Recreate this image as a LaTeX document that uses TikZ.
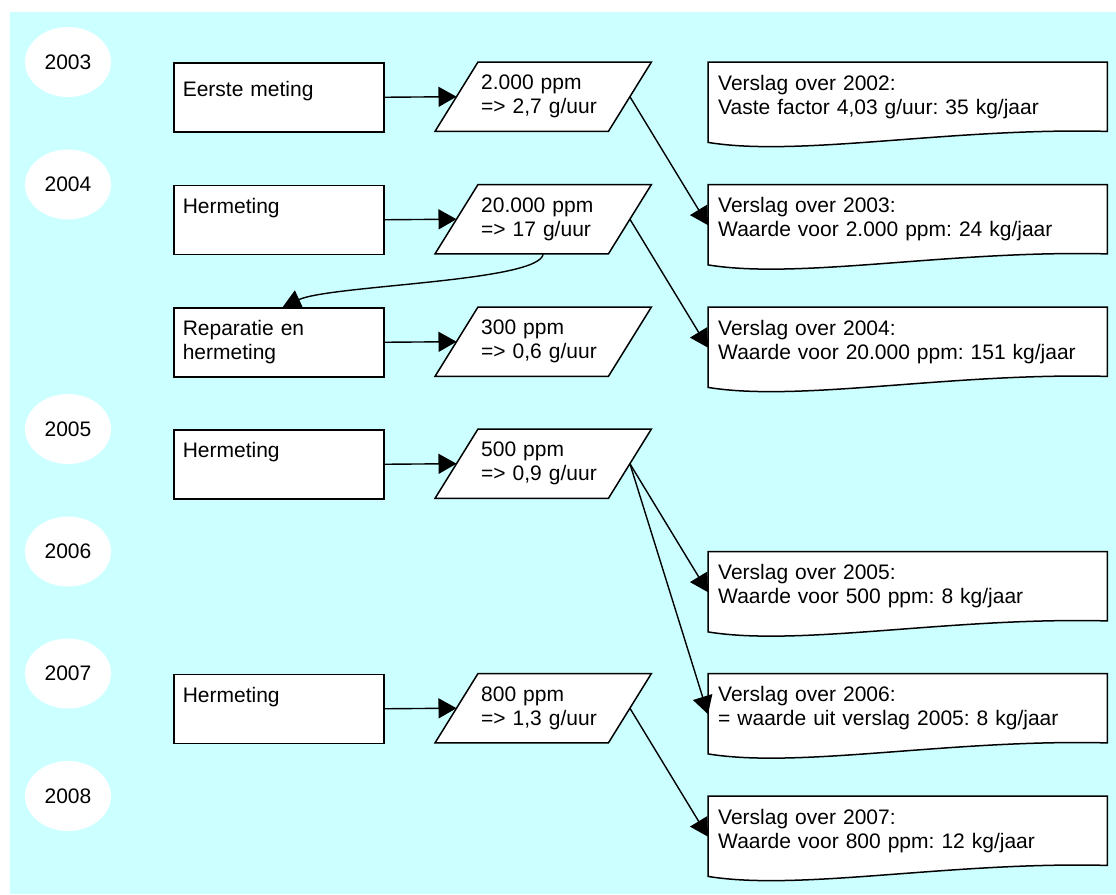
\documentclass[tikz,border=0pt]{standalone}
\usepackage{fontspec}
\setmainfont{Liberation Sans}
\usetikzlibrary{arrows.meta,shapes.geometric}
\definecolor{bgcyan}{RGB}{204,255,255}
\pgfdeclarelayer{bglayer}
\pgfdeclarelayer{shapelayer}
\pgfsetlayers{bglayer,shapelayer,main}
\frenchspacing
\newcommand\drawdata[1]{\draw[shapeline] ([xshift=43pt]#1.north west) -- (#1.north east) -- ([xshift=-43pt]#1.south east) -- (#1.south west) -- cycle;}
\newcommand\drawdoc[1]{\draw[shapeline] ([yshift=-11pt]#1.south west) -- (#1.north west) -- (#1.north east) -- (#1.south east) .. controls ([xshift=-157pt,yshift=4pt]#1.south east) and ([xshift=92pt,yshift=-26pt]#1.south west) .. ([yshift=-11pt]#1.south west) -- cycle;}
\newcommand\oneline[2][6pt]{\raisebox{#1}[\height][\depth]{#2}}
\begin{document}
\begin{tikzpicture}[x=1pt,y=-1pt,
  every node/.style={font=\fontsize{21}{24}\selectfont},
  shapeline/.style={draw=black, line width=1.5pt, fill=white, line join=miter},
  yearnode/.style={ellipse, fill=white, minimum width=86pt, minimum height=70pt, inner sep=0pt},
  procbox/.style={draw=black, line width=1.5pt, fill=white, minimum width=210pt, minimum height=69pt, text width=192pt, inner xsep=9pt, inner ysep=0pt, align=left, anchor=north west},
  datanode/.style={minimum width=216pt, minimum height=69pt, text width=124pt, inner xsep=46pt, inner ysep=0pt, align=left, anchor=north west},
  docnode/.style={minimum width=399pt, minimum height=69pt, text width=379pt, inner xsep=10pt, inner ysep=0pt, align=left, anchor=north west},
  conn/.style={draw=black, line width=1.4pt, -{Triangle[length=18pt,width=20pt]}}]
\useasboundingbox (0,0) rectangle (1116,894);
\begin{pgfonlayer}{bglayer}
\fill[bgcyan] (10,12) rectangle (1116,894);
\end{pgfonlayer}

% years
\node[yearnode] (y2003) at (68,62) {2003};
\node[yearnode] (y2004) at (68,184.5) {2004};
\node[yearnode] (y2005) at (68,429) {2005};
\node[yearnode] (y2006) at (68,551.5) {2006};
\node[yearnode] (y2007) at (68,673.5) {2007};
\node[yearnode] (y2008) at (68,796) {2008};

% process boxes
\node[procbox] (b1) at (173,62) {\oneline{Eerste meting}};
\node[procbox] (b2) at (173,184.5) {\oneline[12pt]{Hermeting}};
\node[procbox] (rep) at (173,307) {Reparatie en\\hermeting};
\node[procbox] (b4) at (173,429) {\oneline[12pt]{Hermeting}};
\node[procbox] (b5) at (173,673.5) {\oneline[12pt]{Hermeting}};

% data
\node[datanode] (d1) at (435,62) {2.000 ppm\\=> 2,7 g/uur};
\node[datanode] (d2) at (435,184.5) {20.000 ppm\\=> 17 g/uur};
\node[datanode] (d3) at (435,307) {300 ppm\\=> 0,6 g/uur};
\node[datanode] (d4) at (435,429) {500 ppm\\=> 0,9 g/uur};
\node[datanode] (d5) at (435,673.5) {800 ppm\\=> 1,3 g/uur};

% reports
\node[docnode] (r2002) at (708,62) {Verslag over 2002:\\Vaste factor 4,03 g/uur: 35 kg/jaar};
\node[docnode] (r2003) at (708,184.5) {Verslag over 2003:\\Waarde voor 2.000 ppm: 24 kg/jaar};
\node[docnode] (r2004) at (708,307) {Verslag over 2004:\\Waarde voor 20.000 ppm: 151 kg/jaar};
\node[docnode] (r2005) at (708,551.5) {Verslag over 2005:\\Waarde voor 500 ppm: 8 kg/jaar};
\node[docnode] (r2006) at (708,673.5) {Verslag over 2006:\\= waarde uit verslag 2005: 8 kg/jaar};
\node[docnode] (r2007) at (708,796) {Verslag over 2007:\\Waarde voor 800 ppm: 12 kg/jaar};

\begin{pgfonlayer}{shapelayer}
\drawdata{d1}\drawdata{d2}\drawdata{d3}\drawdata{d4}\drawdata{d5}
\drawdoc{r2002}\drawdoc{r2003}\drawdoc{r2004}\drawdoc{r2005}\drawdoc{r2006}\drawdoc{r2007}
\end{pgfonlayer}

% connectors
\draw[conn] (b1.east) -- ([xshift=21.5pt]d1.west);
\draw[conn] (b2.east) -- ([xshift=21.5pt]d2.west);
\draw[conn] (rep.east) -- ([xshift=21.5pt]d3.west);
\draw[conn] (b4.east) -- ([xshift=21.5pt]d4.west);
\draw[conn] (b5.east) -- ([xshift=21.5pt]d5.west);

\draw[conn] ([xshift=-21.5pt]d1.east) -- ([yshift=-6pt]r2003.west);
\draw[conn] ([xshift=-21.5pt]d2.east) -- ([yshift=-6pt]r2004.west);
\draw[conn] ([xshift=-21.5pt]d4.east) -- ([yshift=-6pt]r2005.west);
\draw[conn] ([xshift=-21.5pt]d4.east) -- ([yshift=-6pt]r2006.west);
\draw[conn] ([xshift=-21.5pt]d5.east) -- ([yshift=-6pt]r2007.west);

\draw[conn] (d2.south) .. controls ([xshift=-3pt,yshift=-28pt]d2.south) and ([xshift=52pt,yshift=22pt]rep.north) .. ([xshift=4pt]rep.north);
\end{tikzpicture}
\end{document}
